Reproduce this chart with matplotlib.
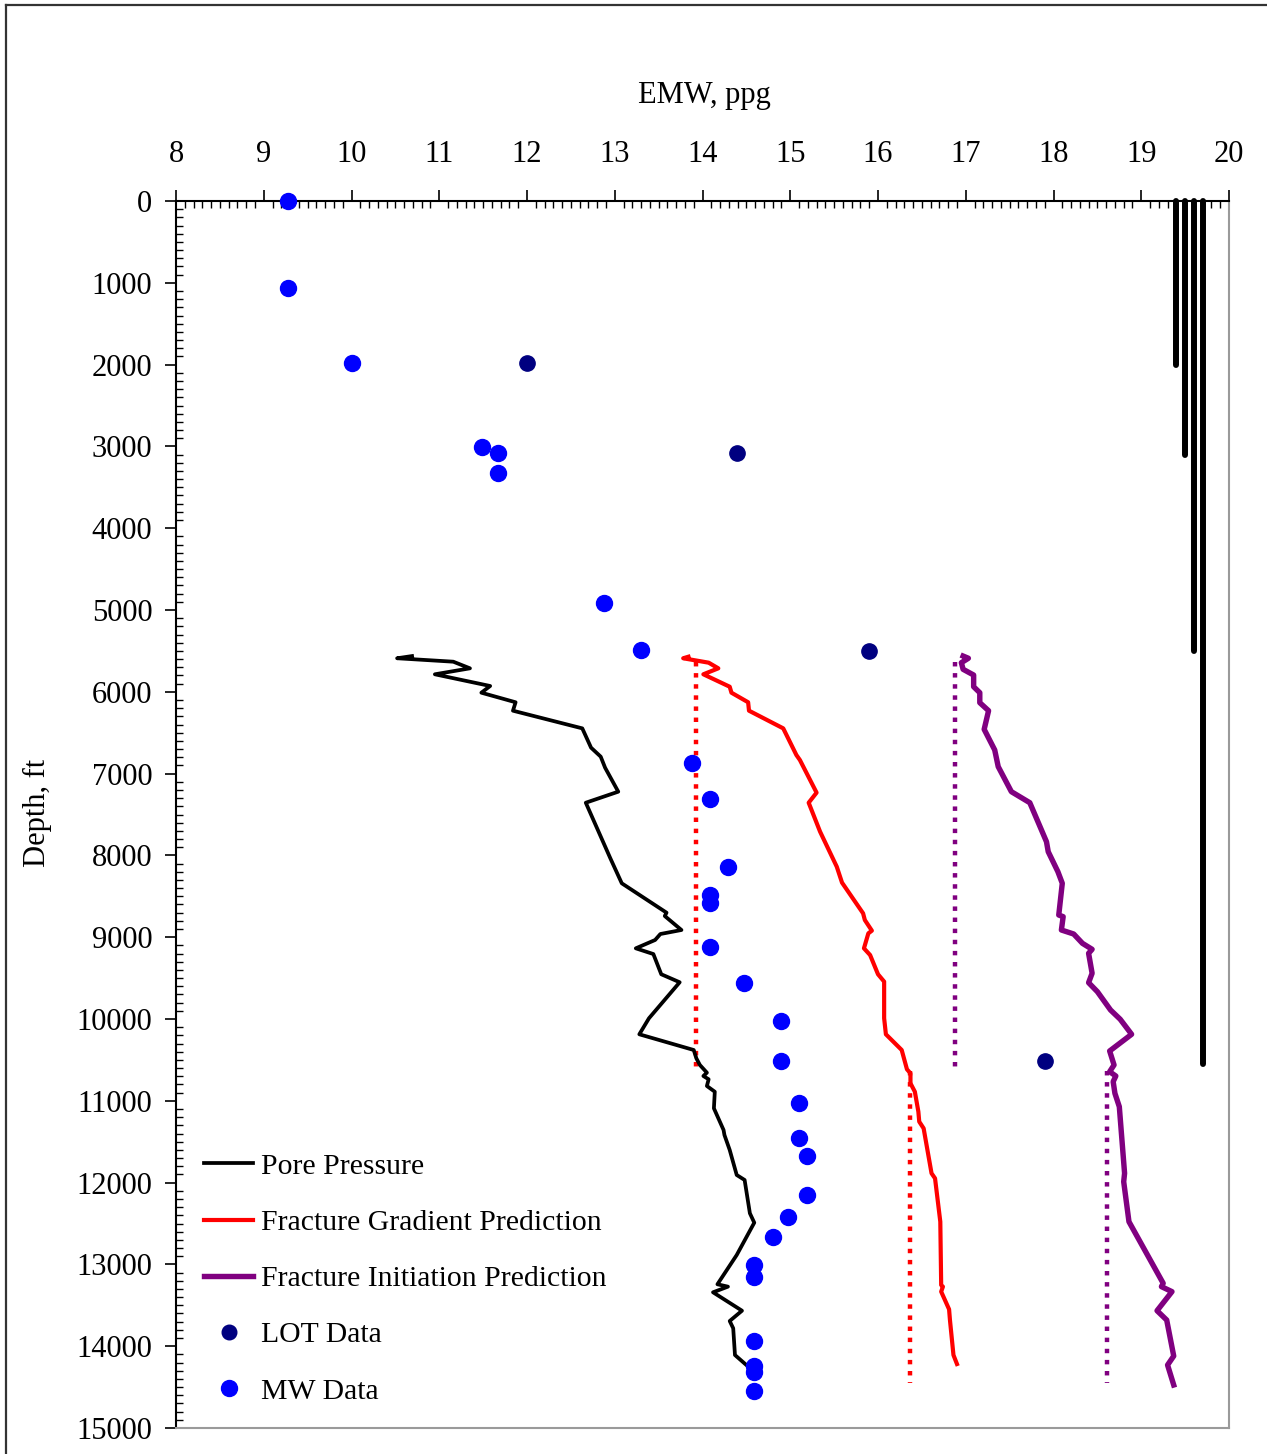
import matplotlib
matplotlib.use("Agg")
import matplotlib.pyplot as plt
from matplotlib.lines import Line2D
from matplotlib.ticker import MultipleLocator

plt.rcParams['font.family'] = ['Liberation Serif', 'DejaVu Serif']

# Pore pressure profile (EMW ppg vs depth ft)
pp_depth = [5563, 5590, 5632, 5713, 5786, 5929, 6011, 6128, 6231, 6447, 6683, 6793,
            6928, 7221, 7356, 8036, 8341, 8700, 8741, 8912, 8961, 9034, 9136, 9206,
            9453, 9551, 9991, 10187, 10379, 10481, 10562, 10656, 10697, 10737, 10819,
            10889, 11092, 11357, 11418, 11601, 11907, 11968, 12375, 12490, 12885,
            13243, 13272, 13341, 13566, 13692, 13781, 14108, 14230]
pp_emw = [10.69, 10.52, 11.16, 11.35, 10.95, 11.58, 11.48, 11.87, 11.84, 12.63, 12.73,
          12.84, 12.89, 13.04, 12.67, 12.95, 13.08, 13.59, 13.57, 13.76, 13.52, 13.46,
          13.24, 13.44, 13.53, 13.74, 13.39, 13.28, 13.90, 13.93, 13.97, 14.05, 14.01,
          14.07, 14.05, 14.14, 14.13, 14.24, 14.25, 14.31, 14.39, 14.48, 14.54, 14.59,
          14.39, 14.17, 14.29, 14.12, 14.45, 14.31, 14.35, 14.37, 14.50]

# Fracture gradient prediction
fg_depth = [5571, 5590, 5644, 5713, 5786, 5938, 6011, 6128, 6231, 6447, 6773, 6834,
            7233, 7356, 7710, 8138, 8333, 8708, 8790, 8920, 8953, 9136, 9218, 9453,
            9543, 9991, 10187, 10379, 10615, 10664, 10786, 10889, 11133, 11255, 11337,
            11886, 11948, 12478, 13252, 13272, 13333, 13549, 13680, 14108, 14218]
fg_emw = [13.84, 13.78, 14.07, 14.18, 14.01, 14.31, 14.33, 14.52, 14.53, 14.92, 15.07,
          15.11, 15.30, 15.21, 15.34, 15.53, 15.59, 15.83, 15.85, 15.93, 15.89, 15.84,
          15.91, 16.00, 16.07, 16.07, 16.09, 16.27, 16.33, 16.37, 16.37, 16.42, 16.46,
          16.47, 16.52, 16.61, 16.65, 16.71, 16.72, 16.74, 16.72, 16.81, 16.82, 16.86,
          16.90]

# Fracture initiation prediction
fi_depth = [5563, 5590, 5644, 5725, 5795, 5938, 6011, 6133, 6231, 6459, 6711, 6915,
            7221, 7356, 7833, 7955, 8199, 8341, 8729, 8749, 8912, 8961, 9075, 9148,
            9197, 9441, 9556, 9666, 9890, 10003, 10187, 10391, 10562, 10644, 10697,
            10766, 10909, 11072, 11886, 11989, 12478, 13231, 13272, 13333, 13566,
            13680, 14120, 14230, 14474]
fi_emw = [16.97, 17.03, 16.95, 16.97, 17.09, 17.09, 17.16, 17.16, 17.26, 17.21, 17.33,
          17.37, 17.52, 17.73, 17.92, 17.94, 18.05, 18.10, 18.06, 18.11, 18.09, 18.23,
          18.33, 18.44, 18.40, 18.44, 18.40, 18.50, 18.65, 18.76, 18.89, 18.64, 18.69,
          18.64, 18.71, 18.68, 18.70, 18.75, 18.81, 18.80, 18.86, 19.25, 19.23, 19.35,
          19.18, 19.29, 19.37, 19.30, 19.37]

# Constant limits per hole section (dotted)
fg_limit_emw = [13.93, 16.37]
fi_limit_emw = [16.88, 18.61]
section_top = [5630, 10640]
section_base = [10600, 14450]

# Mud weight records
mw_emw = [9.28, 9.28, 10.0, 11.49, 11.67, 11.67, 12.88, 13.30, 13.88, 14.09, 14.29,
          14.09, 14.09, 14.09, 14.47, 14.89, 14.89, 15.10, 15.10, 15.19, 15.19, 14.98,
          14.80, 14.59, 14.59, 14.59, 14.59, 14.59, 14.59]
mw_depth = [0, 1063, 1980, 3007, 3080, 3325, 4914, 5489, 6870, 7310, 8142, 8484, 8582,
            9120, 9560, 10024, 10513, 11030, 11451, 11671, 12155, 12424, 12669, 13011,
            13158, 13940, 14242, 14311, 14551]

# Leak-off tests
lot_emw = [12.0, 14.39, 15.90, 17.90]
lot_depth = [1980, 3080, 5500, 10513]

# Casing strings (drawn at the right edge)
casing_emw = [19.4, 19.5, 19.6, 19.7]
casing_depth = [2000, 3100, 5500, 10550]

x_ticks = list(range(8, 21))
y_ticks = list(range(0, 15001, 1000))

W, H = 1267, 1454
fig = plt.figure(figsize=(W / 100, H / 100), dpi=100)
ax = fig.add_axes([176 / W, 1 - 1428 / H, (1229 - 176) / W, (1428 - 201) / H])

red = '#FF0000'
purple = '#800080'
pp_lw, fg_lw, fi_lw = 2.7, 3.0, 3.9

ax.plot(pp_emw, pp_depth, color='black', lw=pp_lw, zorder=3)
ax.plot(fg_emw, fg_depth, color=red, lw=fg_lw, zorder=3)
ax.plot(fi_emw, fi_depth, color=purple, lw=fi_lw, zorder=3)

for xv, top, base in zip(fg_limit_emw, section_top, section_base):
    ax.plot([xv, xv], [top, base], color=red, lw=3.2, linestyle=(0, (1, 1.5)),
            dash_capstyle='butt', zorder=2)
for xv, top, base in zip(fi_limit_emw, section_top, section_base):
    ax.plot([xv, xv], [top, base], color=purple, lw=3.2, linestyle=(0, (1, 1.5)),
            dash_capstyle='butt', zorder=2)

for xv, d in zip(casing_emw, casing_depth):
    ax.plot([xv, xv], [0, d], color='black', lw=4.3, solid_capstyle='round',
            clip_on=False, zorder=4)

ax.plot(lot_emw, lot_depth, linestyle='none', marker='o', ms=11, color='#000080',
        zorder=5, clip_on=False)
ax.plot(mw_emw, mw_depth, linestyle='none', marker='o', ms=11.5, color='#0000FF',
        zorder=5, clip_on=False)

ax.set_xlim(8, 20)
ax.set_ylim(15000, 0)
ax.xaxis.tick_top()
ax.set_xticks(x_ticks)
ax.set_yticks(y_ticks)
ax.xaxis.set_minor_locator(MultipleLocator(0.1))
ax.yaxis.set_minor_locator(MultipleLocator(100))
ax.tick_params(which='major', direction='out', length=8, width=1.2, labelsize=22,
               color='black')
ax.tick_params(which='minor', direction='in', length=5, width=1.0, color='black')
ax.tick_params(axis='x', which='major', pad=15)
ax.tick_params(axis='y', which='major', pad=9)
ax.tick_params(axis='y', which='both', right=False)
ax.tick_params(axis='x', which='both', bottom=False)

for side in ('top', 'left'):
    ax.spines[side].set_color('black')
    ax.spines[side].set_linewidth(1.5)
for side in ('right', 'bottom'):
    ax.spines[side].set_color('#9a9a9a')
    ax.spines[side].set_linewidth(1.5)

fig.text(704 / W, 1 - 96 / H, 'EMW, ppg', ha='center', va='center', fontsize=22)
fig.text(37 / W, 1 - 813 / H, 'Depth, ft', ha='center', va='center', fontsize=22,
         rotation=90)

handles = [
    Line2D([], [], color='black', lw=pp_lw),
    Line2D([], [], color=red, lw=fg_lw),
    Line2D([], [], color=purple, lw=fi_lw),
    Line2D([], [], linestyle='none', marker='o', ms=10.5, color='#000080'),
    Line2D([], [], linestyle='none', marker='o', ms=11.5, color='#0000FF'),
]
labels = ['Pore Pressure', 'Fracture Gradient Prediction',
          'Fracture Initiation Prediction', 'LOT Data', 'MW Data']
ax.legend(handles, labels, loc='upper left',
          bbox_to_anchor=(204 / W, 1 - 1153 / H), bbox_transform=fig.transFigure,
          frameon=False, fontsize=21.4, handlelength=1.65, handletextpad=0.27,
          labelspacing=0.99, borderpad=0, borderaxespad=0)

# Outer frame
fig.add_artist(Line2D([6 / W, 6 / W], [0, 1 - 5 / H], transform=fig.transFigure,
                      color='#333333', lw=1.6))
fig.add_artist(Line2D([6 / W, 1], [1 - 5 / H, 1 - 5 / H], transform=fig.transFigure,
                      color='#333333', lw=1.6))

fig.savefig('out.png', dpi=100)
